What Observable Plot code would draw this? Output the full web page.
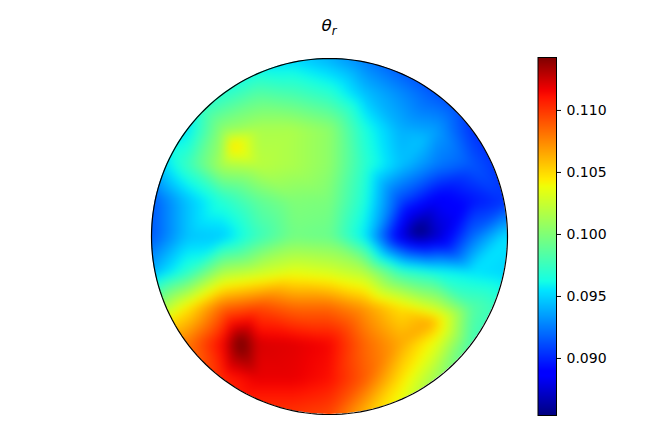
<!DOCTYPE html>
<html>
<head>
<meta charset="utf-8">
<script src="https://cdn.jsdelivr.net/npm/d3@7"></script>
<script src="https://cdn.jsdelivr.net/npm/@observablehq/plot@0.6"></script>
<style>
html,body{margin:0;padding:0;background:#fff;overflow:hidden;}
#page{width:646px;height:431px;font-family:"DejaVu Sans",sans-serif;color:#000;}
#title{box-sizing:border-box;width:646px;height:50px;padding:15px 0 0 12px;text-align:center;font-size:16.7px;line-height:20px;font-family:"DejaVu Sans",sans-serif;}
#title sub{font-size:11.7px;line-height:0;}
#row{display:flex;height:381px;}
#row svg{display:block;flex:none;background:transparent;}
</style>
</head>
<body>
<div id="page">
  <div id="title"><i>θ</i><sub><i>r</i></sub></div>
  <div id="row"></div>
</div>
<script>
const gridX = [-1, -0.8, -0.6, -0.4, -0.2, 0, 0.2, 0.4, 0.6, 0.8, 1];
const gridY = [1, 0.8, 0.6, 0.4, 0.2, 0, -0.2, -0.4, -0.6, -0.8, -1];
const gridValues = [
  [.095, .095, .095, .095, .095, .094, .0925, .091, .0895, .089, .089],
  [.095, .095, .097, .0985, .098, .097, .0945, .093, .0915, .09, .0895],
  [.0945, .0955, .1005, .1015, .1015, .1005, .0965, .094, .0935, .0905, .0895],
  [.094, .0975, .1015, .102, .1015, .1005, .097, .0945, .0925, .0915, .09],
  [.0915, .0945, .0968, .0988, .1, .0998, .0965, .091, .0885, .0895, .0905],
  [.0915, .0945, .0948, .0975, .0995, .0992, .0955, .088, .0872, .092, .0955],
  [.094, .097, .1015, .1025, .1035, .103, .1018, .0975, .0962, .0955, .095],
  [.1, .1045, .1085, .1095, .1085, .1085, .107, .1048, .1025, .0985, .097],
  [.106, .108, .1115, .1122, .112, .1115, .1085, .1065, .1035, .098, .097],
  [.109, .109, .1105, .1118, .1118, .1112, .1088, .1048, .101, .1, .1],
  [.11, .11, .11, .11, .11, .1095, .106, .103, .1, .1, .1]
];
const peakX = [-0.545, 0.5, -0.5, 0.567, 0.52];
const peakY = [0.511, 0.022, -0.6, -0.483, 0.54];
const peakValues = [.105, .0852, .1148, .1065, .0945];

const colorLimits = [0.0854, 0.11427];
const colorTicks = [0.09, 0.095, 0.1, 0.105, 0.11];
const jetStops = [0, 0.11, 0.125, 0.34, 0.35, 0.375, 0.5, 0.64, 0.66, 0.89, 0.91, 1];
const jetColors = ["#00007f", "#0000ff", "#0000ff", "#00dbff", "#00e5ff", "#14ffe5", "#7bff7b", "#efff08", "#ffec00", "#ff1200", "#f10000", "#7f0000"];

const samples = [];
gridY.forEach((y, i) => gridX.forEach((x, j) => samples.push({x, y, v: gridValues[i][j]})));
peakX.forEach((x, i) => samples.push({x, y: peakY[i], v: peakValues[i]}));

const color = {
  type: "linear",
  domain: jetStops.map(t => colorLimits[0] + t * (colorLimits[1] - colorLimits[0])),
  range: jetColors,
  interpolate: "rgb",
  clamp: true
};

const rim = d3.range(0, 361, 2).map(a => ({x: Math.cos(a * Math.PI / 180), y: Math.sin(a * Math.PI / 180)}));

const disc = Plot.plot({
  width: 520,
  height: 381,
  marginLeft: 151,
  marginRight: 13,
  marginTop: 8,
  marginBottom: 17,
  x: {domain: [-1, 1], axis: null},
  y: {domain: [-1, 1], axis: null},
  color,
  marks: [
    Plot.raster(samples, {x: "x", y: "y", fill: "v", interpolate: "barycentric", pixelSize: 1, blur: 4}),
    Plot.line(rim, {x: "x", y: "y", stroke: "#000", strokeWidth: 1.2})
  ]
});

// clip the raster to the unit disc, measured through the plot's own scales
const sx = disc.scale("x"), sy = disc.scale("y");
const ns = "http://www.w3.org/2000/svg";
const clip = document.createElementNS(ns, "clipPath");
clip.setAttribute("id", "disc-clip");
const c = document.createElementNS(ns, "circle");
c.setAttribute("cx", sx.apply(0));
c.setAttribute("cy", sy.apply(0));
c.setAttribute("r", sx.apply(1) - sx.apply(0));
clip.appendChild(c);
disc.appendChild(clip);
const field = disc.querySelector("image").parentNode;
const wrap = document.createElementNS(ns, "g");
wrap.setAttribute("clip-path", "url(#disc-clip)");
field.parentNode.insertBefore(wrap, field);
wrap.appendChild(field);

const bar = Plot.plot({
  width: 126,
  height: 381,
  marginLeft: 17.5,
  marginRight: 90,
  marginTop: 7,
  marginBottom: 16,
  x: {domain: [0, 1], axis: null},
  y: {domain: colorLimits, axis: null},
  color,
  marks: [
    Plot.raster({fill: (x, y) => y, x1: 0, x2: 1, y1: colorLimits[0], y2: colorLimits[1], pixelSize: 1}),
    Plot.frame({stroke: "#000", strokeWidth: 1}),
    Plot.axisY(colorTicks, {
      anchor: "right",
      label: null,
      tickSize: 4,
      tickPadding: 6,
      tickFormat: d3.format(".3f"),
      fontSize: 14,
      fontFamily: "DejaVu Sans",
      fill: "#000",
      stroke: "#000"
    })
  ]
});

const row = document.getElementById("row");
row.appendChild(disc);
row.appendChild(bar);
</script>
</body>
</html>
